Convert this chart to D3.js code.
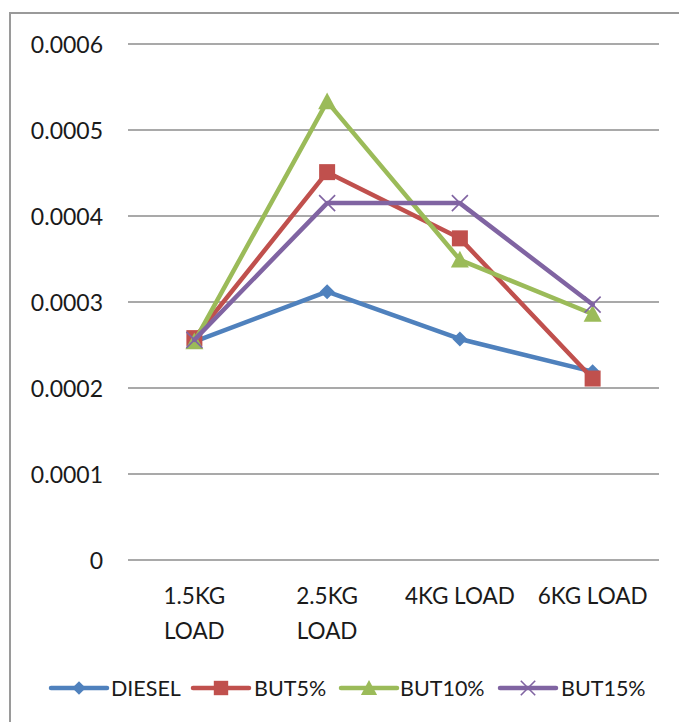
<!DOCTYPE html>
<html>
<head>
<meta charset="utf-8">
<script src="https://cdn.jsdelivr.net/npm/d3@7"></script>
<style>
  html, body { margin: 0; padding: 0; background: #fff; }
  svg text { font-family: Lato, "Open Sans", sans-serif; fill: #1a1a1a; }
</style>
</head>
<body>
<svg id="chart" width="679" height="722"></svg>
<script>
// Load conditions along the x axis (two-line labels)
const categories = ["1.5KG LOAD", "2.5KG LOAD", "4KG LOAD", "6KG LOAD"];
const categoryLines = [["1.5KG", "LOAD"], ["2.5KG", "LOAD"], ["4KG LOAD"], ["6KG LOAD"]];

// Measured values per fuel blend
const diesel = [0.000254, 0.000312, 0.000257, 0.000219];
const but5   = [0.000258, 0.000451, 0.000374, 0.000211];
const but10  = [0.000254, 0.000533, 0.000349, 0.000286];
const but15  = [0.000256, 0.000415, 0.000415, 0.000297];

const yTicks = [0, 0.0001, 0.0002, 0.0003, 0.0004, 0.0005, 0.0006];
const yTickLabels = ["0", "0.0001", "0.0002", "0.0003", "0.0004", "0.0005", "0.0006"];

const series = [
  { name: "DIESEL", values: diesel, color: "#4F81BD", marker: "diamond" },
  { name: "BUT5%",  values: but5,   color: "#C0504D", marker: "square" },
  { name: "BUT10%", values: but10,  color: "#9BBB59", marker: "triangle" },
  { name: "BUT15%", values: but15,  color: "#8064A2", marker: "cross" }
];

const svg = d3.select("#chart");

// Outer chart frame
svg.append("rect")
  .attr("x", 10).attr("y", 13)
  .attr("width", 700).attr("height", 740)
  .attr("fill", "none").attr("stroke", "#9a9a9a").attr("stroke-width", 2);

const plot = { left: 128, right: 659, top: 44, bottom: 560 };

const x = d3.scaleBand().domain(categories).range([plot.left, plot.right]);
const y = d3.scaleLinear().domain([0, 0.0006]).range([plot.bottom, plot.top]);
const cx = c => x(c) + x.bandwidth() / 2;

// Horizontal gridlines
svg.append("g").selectAll("line").data(yTicks).join("line")
  .attr("x1", plot.left).attr("x2", plot.right)
  .attr("y1", d => y(d)).attr("y2", d => y(d))
  .attr("stroke", "#8c8c8c").attr("stroke-width", 1.6);

// Y axis tick labels
const yAxis = d3.axisLeft(y).tickValues(yTicks)
  .tickFormat((d, i) => yTickLabels[i]).tickSize(0).tickPadding(0);
const gy = svg.append("g").attr("transform", `translate(103,0)`).call(yAxis);
gy.select(".domain").remove();
gy.selectAll("text").attr("font-size", 23).attr("font-family", "Lato, sans-serif")
  .attr("fill", "#1a1a1a").attr("dy", "0.35em");

// X axis category labels
const xl = svg.append("g");
categories.forEach((c, i) => {
  const t = xl.append("text").attr("x", cx(c)).attr("y", 604)
    .attr("text-anchor", "middle").attr("font-size", 22.5);
  categoryLines[i].forEach((ln, j) => {
    t.append("tspan").attr("x", cx(c)).attr("dy", j === 0 ? 0 : 35).text(ln);
  });
});

// Marker shapes
function drawMarker(g, kind, color, px, py, scale = 1) {
  if (kind === "diamond") {
    const s = 7.5 * scale;
    g.append("path").attr("d", `M${px},${py - s}L${px + s},${py}L${px},${py + s}L${px - s},${py}Z`)
      .attr("fill", color);
  } else if (kind === "square") {
    const s = 8 * scale;
    g.append("rect").attr("x", px - s).attr("y", py - s).attr("width", 2 * s).attr("height", 2 * s)
      .attr("fill", color);
  } else if (kind === "triangle") {
    const s = 9 * scale;
    g.append("path").attr("d", `M${px},${py - s}L${px + s},${py + s * 0.85}L${px - s},${py + s * 0.85}Z`)
      .attr("fill", color);
  } else if (kind === "cross") {
    const s = 8 * scale;
    g.append("path").attr("d", `M${px - s},${py - s}L${px + s},${py + s}M${px + s},${py - s}L${px - s},${py + s}`)
      .attr("stroke", color).attr("stroke-width", 1.6).attr("fill", "none");
  }
}

const line = d3.line().x((d, i) => cx(categories[i])).y(d => y(d));

series.forEach(s => {
  const g = svg.append("g");
  g.append("path").datum(s.values).attr("d", line)
    .attr("fill", "none").attr("stroke", s.color).attr("stroke-width", 4.5)
    .attr("stroke-linejoin", "round").attr("stroke-linecap", "round");
  s.values.forEach((v, i) => drawMarker(g, s.marker, s.color, cx(categories[i]), y(v)));
});

// Legend
const legendY = 688;
const legendItems = [
  { lineX: 51, textX: 111 },
  { lineX: 193, textX: 254 },
  { lineX: 341, textX: 400 },
  { lineX: 500, textX: 561 }
];
series.forEach((s, i) => {
  const li = legendItems[i];
  const g = svg.append("g");
  g.append("line").attr("x1", li.lineX).attr("x2", li.lineX + 56)
    .attr("y1", legendY).attr("y2", legendY)
    .attr("stroke", s.color).attr("stroke-width", 4.5).attr("stroke-linecap", "round");
  drawMarker(g, s.marker, s.color, li.lineX + 28, legendY, 0.9);
  g.append("text").attr("x", li.textX).attr("y", legendY).attr("dy", "0.35em")
    .attr("font-size", 21.5).text(s.name);
});
</script>
</body>
</html>
